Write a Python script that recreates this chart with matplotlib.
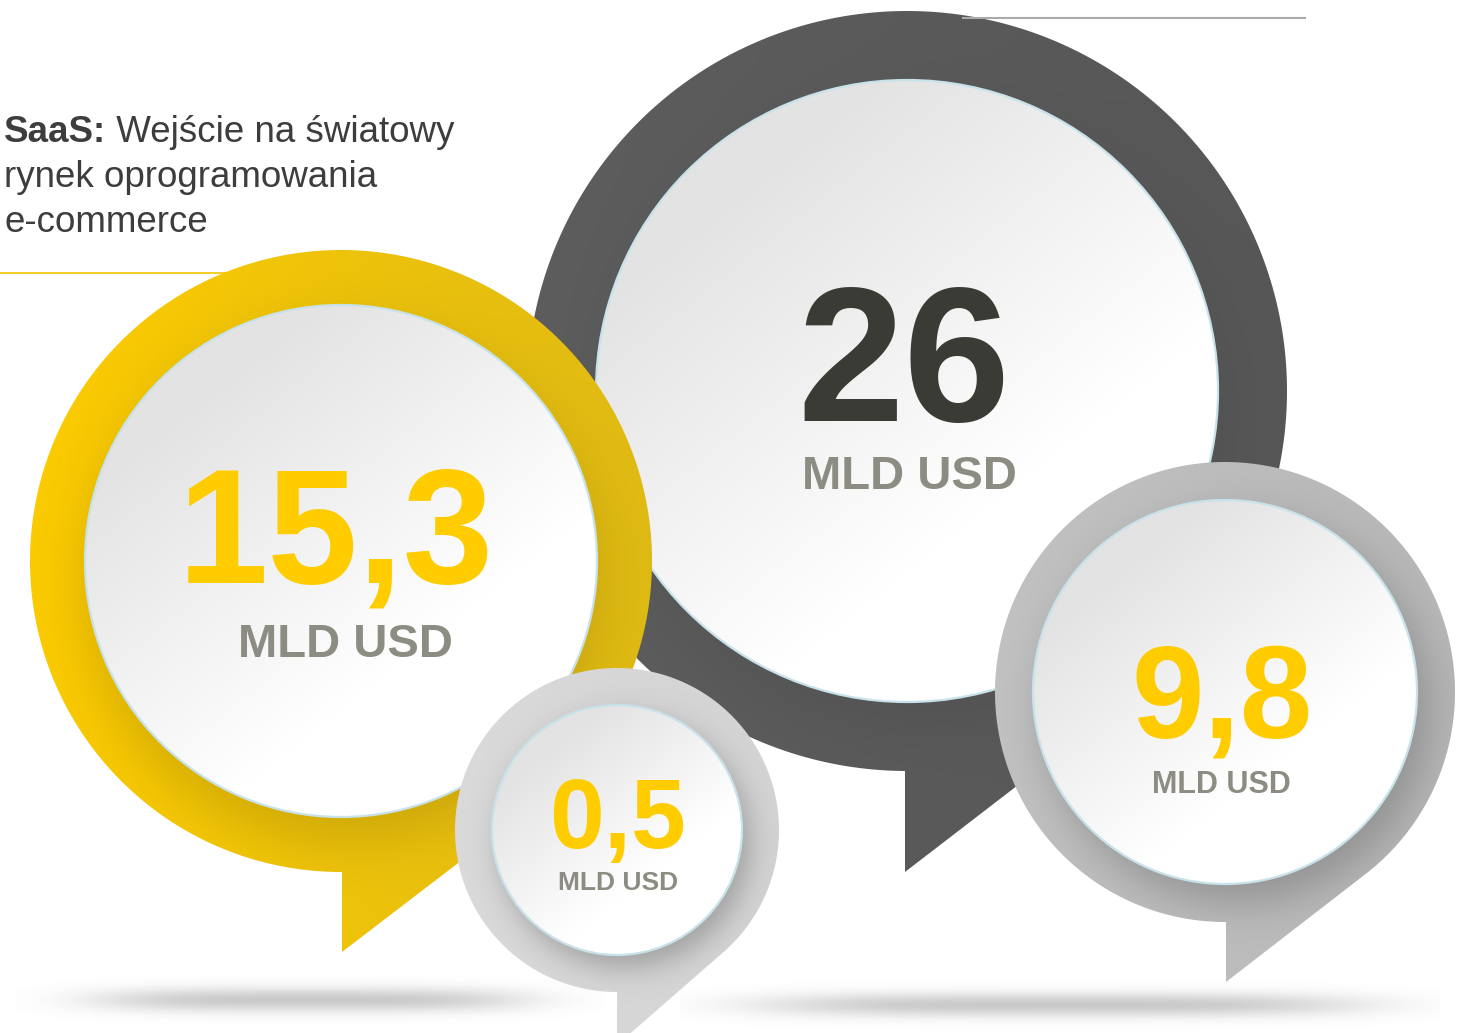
import numpy as np
import matplotlib.pyplot as plt
from matplotlib.patches import Circle, Polygon
from matplotlib.colors import to_rgb

plt.rcParams['font.family'] = ['Liberation Sans', 'DejaVu Sans']

# data
values = ['26', '15,3', '9,8', '0,5']
unit = 'MLD USD'
title_bold = 'SaaS:'
title_rest = ' Wejście na światowy'
title_lines = ['rynek oprogramowania', 'e-commerce']

# layout in pixels (y grows downwards), drawn back to front
cx = [907, 341, 1225, 617]
cy = [391, 561, 692, 830]
R_out = [380, 311, 230, 162]
r_in = [311, 256, 192, 125]
tips = [(905, 872), (342, 952), (1226, 982), (617, 1045)]
ring_left = ['#5d5d5d', '#fdcc00', '#c2c2c2', '#dadada']
ring_right = ['#575757', '#e0bb14', '#b8b8b8', '#d4d4d4']
shadow_k = [0.08, 0.14, 0.22, 0.25]
shadow_off = [(0.02, 0.08), (0.0, 0.09), (0.06, 0.10), (0.06, 0.10)]
num_color = ['#3b3b36', '#ffcc00', '#ffcc00', '#ffcc00']
num_size = [138, 117, 94, 71]
num_pos = [(904, 421), (336, 583), (1222, 737), (618, 848)]
unit_size = [34, 34, 22, 19]
unit_pos = [(909, 489), (345, 657), (1221, 793), (618, 890)]
unit_color = '#8c8c82'

W, H = 1461, 1033
fig = plt.figure(figsize=(W / 100, H / 100), dpi=100)
ax = fig.add_axes([0, 0, 1, 1])


def grid(x0, x1, y0, y1):
    xs = np.arange(x0, x1 + 1, 1.0)
    ys = np.arange(y0, y1 + 1, 1.0)
    return np.meshgrid(xs, ys)


def put(img, x0, x1, y0, y1, clip=None, z=1):
    im = ax.imshow(img, extent=(x0, x1, y1, y0), origin='upper',
                   interpolation='bilinear', zorder=z)
    if clip is not None:
        im.set_clip_path(clip)
    return im


# floor shadows
for x0s, wx, y0s in [(310, 215, 1000), (1060, 300, 1005)]:
    xx, yy = grid(x0s - wx - 80, x0s + wx + 80, y0s - 40, min(y0s + 40, H))
    a = 0.38 * np.exp(-((xx - x0s) / wx) ** 4) * np.exp(-((yy - y0s) / 12.0) ** 2)
    img = np.zeros(xx.shape + (4,))
    img[..., :3] = 0.45
    img[..., 3] = a
    put(img, xx.min(), xx.max(), yy.min(), yy.max(), z=0)

# thin rules
ax.plot([0, 300], [273, 273], color='#f3c300', lw=1.2, zorder=0.5)

z = 1
for i in range(len(values)):
    x, y, R, r = cx[i], cy[i], R_out[i], r_in[i]
    tx, ty = tips[i]
    # outline: circle plus tangent tail
    d = np.hypot(tx - x, ty - y)
    base = np.arctan2(ty - y, tx - x)
    th = base - np.arccos(R / d)
    ab = np.arctan2(np.sqrt(R ** 2 - (tx - x) ** 2), tx - x)
    ang = np.linspace(th, ab - 2 * np.pi, 500)
    pts = [(tx, ty)] + list(zip(x + R * np.cos(ang), y + R * np.sin(ang)))
    outline = Polygon(pts, closed=True, fc='none', ec='none', zorder=z)
    ax.add_patch(outline)

    x0, x1 = x - R - 2, x + R + 2
    y0, y1 = y - R - 2, max(ty, y + R) + 2
    xx, yy = grid(x0, x1, y0, y1)
    u = np.clip((xx - (x - R)) / (2 * R), 0, 1)[..., None]
    col = (1 - u) * np.array(to_rgb(ring_left[i])) + u * np.array(to_rgb(ring_right[i]))
    ox, oy = shadow_off[i]
    d2 = np.hypot(xx - x - ox * r, yy - y - oy * r)
    sh = 1 / (1 + np.exp((d2 - r) / (0.07 * r)))
    col = col * (1 - shadow_k[i] * sh)[..., None]
    put(np.clip(col, 0, 1), x0, x1, y0, y1, clip=outline, z=z)

    # inner disc with soft diagonal gradient
    disc = Circle((x, y), r, fc='none', ec='none', zorder=z + 0.1)
    ax.add_patch(disc)
    xx, yy = grid(x - r - 1, x + r + 1, y - r - 1, y + r + 1)
    t = ((xx - x) * 0.62 + (yy - y) * 0.78) / r
    t = np.clip((t + 0.85) / 1.3, 0, 1)[..., None]
    col = (1 - t) * np.array(to_rgb('#e3e3e3')) + t * np.array([1.0, 1.0, 1.0])
    put(col, x - r - 1, x + r + 1, y - r - 1, y + r + 1, clip=disc, z=z + 0.1)
    ax.add_patch(Circle((x, y), r, fc='none', ec='#c8e2ea', lw=1.6, zorder=z + 0.2))

    ax.text(num_pos[i][0], num_pos[i][1], values[i], ha='center', va='baseline',
            fontsize=num_size[i], fontweight='bold', color=num_color[i], zorder=z + 0.3)
    ax.text(unit_pos[i][0], unit_pos[i][1], unit, ha='center', va='baseline',
            fontsize=unit_size[i], fontweight='bold', color=unit_color, zorder=z + 0.3)
    z += 1

ax.plot([963, 1305], [18, 18], color='#aaaaaa', lw=1.5, zorder=z)

# title
fs = 26.5
tb = ax.text(4, 142, title_bold, fontsize=fs, fontweight='bold', color='#3d3d3d',
             va='baseline', ha='left', zorder=z)
ax.annotate(title_rest, xy=(1, 0), xycoords=tb, va='bottom', ha='left',
            fontsize=fs, color='#3d3d3d', zorder=z)
for k, line in enumerate(title_lines):
    ax.text(4, 187 + 45 * k, line, fontsize=fs, color='#3d3d3d',
            va='baseline', ha='left', zorder=z)

ax.set_xlim(0, W)
ax.set_ylim(H, 0)
ax.set_aspect('auto')
ax.axis('off')
fig.savefig('out.png', dpi=100, facecolor='white')
